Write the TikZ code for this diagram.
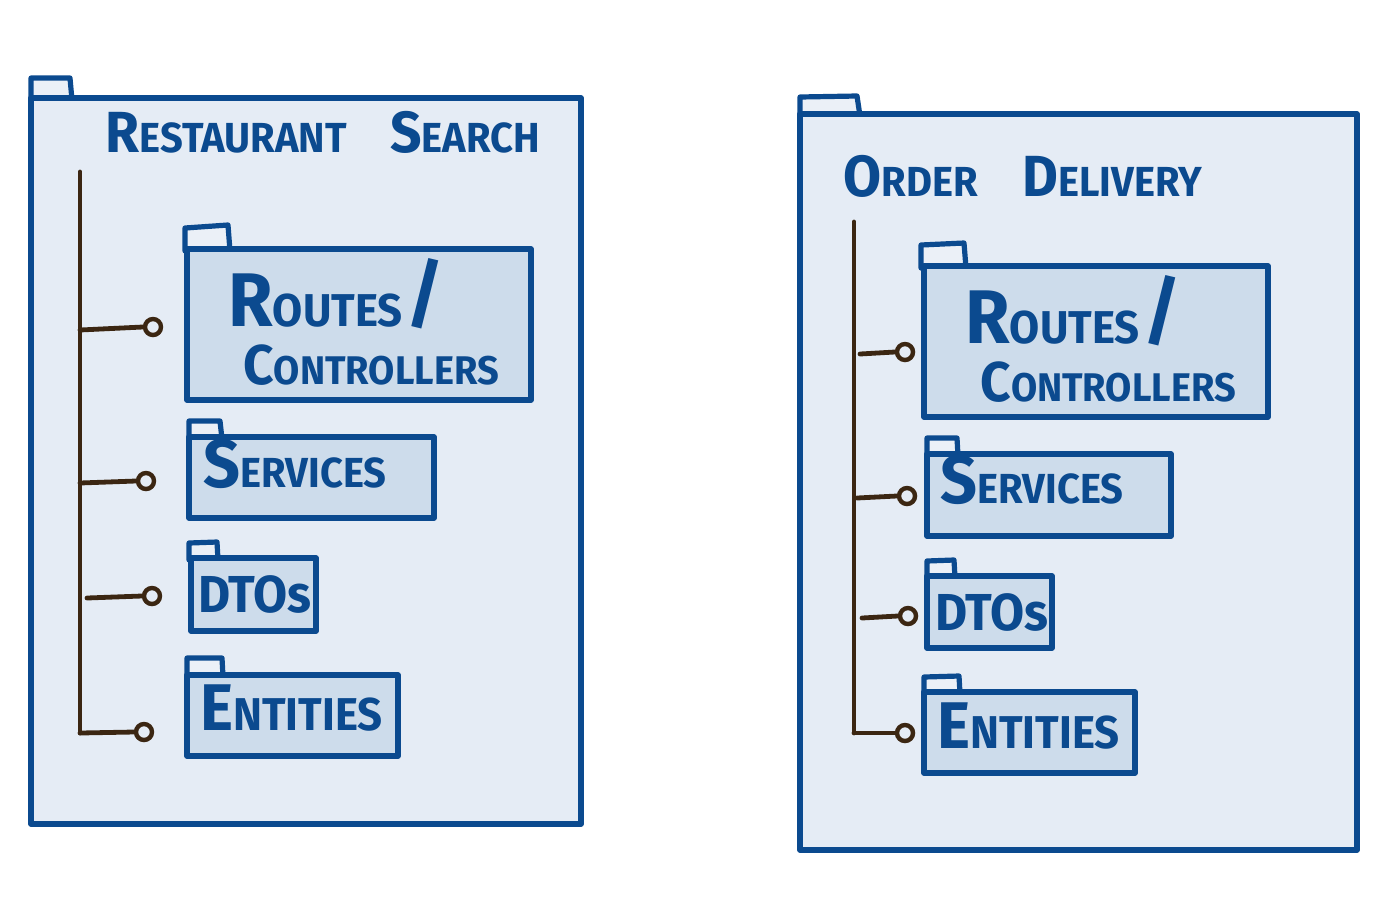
\documentclass[tikz,border=0pt]{standalone}
\usepackage{fontspec}
\usetikzlibrary{fit}
\newfontfamily\hand[FakeStretch=0.95]{Fira Sans}
\definecolor{ln}{HTML}{0B4A8F}
\definecolor{outerfill}{HTML}{E5ECF5}
\definecolor{innerfill}{HTML}{CDDCEB}
\definecolor{tabfill}{HTML}{EBF0F7}
\definecolor{wire}{HTML}{3B2612}
\newcommand\hsc[4]{{\fontsize{#1}{#1}\selectfont #3}{\fontsize{#2}{#2}\selectfont #4}}
\newcommand\bigslash{{\fontsize{38}{38}\selectfont\raisebox{3pt}{/}}}
\tikzset{
  outerbox/.style={draw=ln, fill=outerfill, line width=2.6pt, line join=round, inner sep=0pt},
  pkgbox/.style={draw=ln, fill=innerfill, line width=2.6pt, line join=round, inner sep=0pt},
  tabshape/.style={draw=ln, fill=tabfill, line width=2.6pt, line join=round, line cap=round},
  wireline/.style={draw=wire, line width=2.4pt, line cap=round},
  knob/.style={circle, draw=wire, line width=2.2pt, fill=outerfill, minimum size=8pt, inner sep=0pt},
  lbl/.style={text=ln, font=\hand\bfseries, inner sep=0pt, anchor=base west},
}
\begin{document}
\begin{tikzpicture}[x=0.5pt, y=-0.5pt]
\useasboundingbox (0,0) rectangle (1400,917);
\fill[white] (0,0) rectangle (1400,917);

% ---------------- left package ----------------
\draw[tabshape] (31,100) -- (31,78) -- (70,78) -- (72,100);
\node[outerbox, fit={(31,98)(581,824)}] (LO) {};
\node[lbl] (LT1) at (105,152) {\hsc{29}{21}{R}{ESTAURANT}};
\node[lbl] (LT2) at (390,152) {\hsc{29}{21}{S}{EARCH}};

\draw[tabshape] (185,251) -- (185,228) -- (228,225) -- (230,251);
\node[pkgbox, fit={(187,249)(531,400)}] (LR) {};
\node[lbl] (LR1) at (228,326) {\hsc{38}{23}{R}{OUTES}\,\bigslash};
\node[lbl] (LR2) at (243,384) {\hsc{28}{20}{C}{ONTROLLERS}};

\draw[tabshape] (189,439) -- (189,421) -- (220,421) -- (222,439);
\node[pkgbox, fit={(189,437)(434,518)}] (LS) {};
\node[lbl] (LS1) at (203,487) {\hsc{34}{21}{S}{ERVICES}};

\draw[tabshape] (189,560) -- (189,543) -- (217,542) -- (218,560);
\node[pkgbox, fit={(191,558)(316,631)}] (LD) {};
\node[lbl] (LD1) at (198,612) {\hsc{26}{26}{D}{TOs}};

\draw[tabshape] (187,677) -- (187,658) -- (222,658) -- (223,677);
\node[pkgbox, fit={(187,675)(398,756)}] (LE) {};
\node[lbl] (LE1) at (200,730) {\hsc{33}{23}{E}{NTITIES}};

\coordinate (LTop) at (80,172);
\coordinate (LBot) at (80,733);
\draw[wireline] (LTop) -- (LBot);
\coordinate (LJ1) at (80,330);
\coordinate (LJ2) at (80,483);
\coordinate (LJ3) at (87,598);
\node[knob] (LK1) at (153,327) {};
\node[knob] (LK2) at (146,481) {};
\node[knob] (LK3) at (152,596) {};
\node[knob] (LK4) at (144,732) {};
\draw[wireline] (LJ1) -- (LK1.west);
\draw[wireline] (LJ2) -- (LK2.west);
\draw[wireline] (LJ3) -- (LK3.west);
\draw[wireline] (LBot) -- (LK4.west);

% ---------------- right package ----------------
\draw[tabshape] (800,116) -- (800,97) -- (857,96) -- (860,116);
\node[outerbox, fit={(800,114)(1357,850)}] (RO) {};
\node[lbl] (RT1) at (843,196) {\hsc{29}{21}{O}{RDER}};
\node[lbl] (RT2) at (1022,196) {\hsc{29}{21}{D}{ELIVERY}};

\draw[tabshape] (921,268) -- (921,245) -- (964,243) -- (966,268);
\node[pkgbox, fit={(924,266)(1268,417)}] (RR) {};
\node[lbl] (RR1) at (965,343) {\hsc{38}{23}{R}{OUTES}\,\bigslash};
\node[lbl] (RR2) at (980,401) {\hsc{28}{20}{C}{ONTROLLERS}};

\draw[tabshape] (927,456) -- (927,438) -- (957,438) -- (958,456);
\node[pkgbox, fit={(927,454)(1171,536)}] (RS) {};
\node[lbl] (RS1) at (940,503) {\hsc{34}{21}{S}{ERVICES}};

\draw[tabshape] (927,578) -- (927,561) -- (954,560) -- (955,578);
\node[pkgbox, fit={(927,576)(1052,648)}] (RD) {};
\node[lbl] (RD1) at (935,630) {\hsc{26}{26}{D}{TOs}};

\draw[tabshape] (924,694) -- (924,677) -- (959,676) -- (960,694);
\node[pkgbox, fit={(924,692)(1135,773)}] (RE) {};
\node[lbl] (RE1) at (937,748) {\hsc{33}{23}{E}{NTITIES}};

\coordinate (RTop) at (854,222);
\coordinate (RBot) at (854,733);
\draw[wireline] (RTop) -- (RBot);
\coordinate (RJ1) at (860,354);
\coordinate (RJ2) at (857,498);
\coordinate (RJ3) at (862,618);
\node[knob] (RK1) at (905,352) {};
\node[knob] (RK2) at (907,496) {};
\node[knob] (RK3) at (908,616) {};
\node[knob] (RK4) at (905,733) {};
\draw[wireline] (RJ1) -- (RK1.west);
\draw[wireline] (RJ2) -- (RK2.west);
\draw[wireline] (RJ3) -- (RK3.west);
\draw[wireline] (RBot) -- (RK4.west);
\end{tikzpicture}
\end{document}
